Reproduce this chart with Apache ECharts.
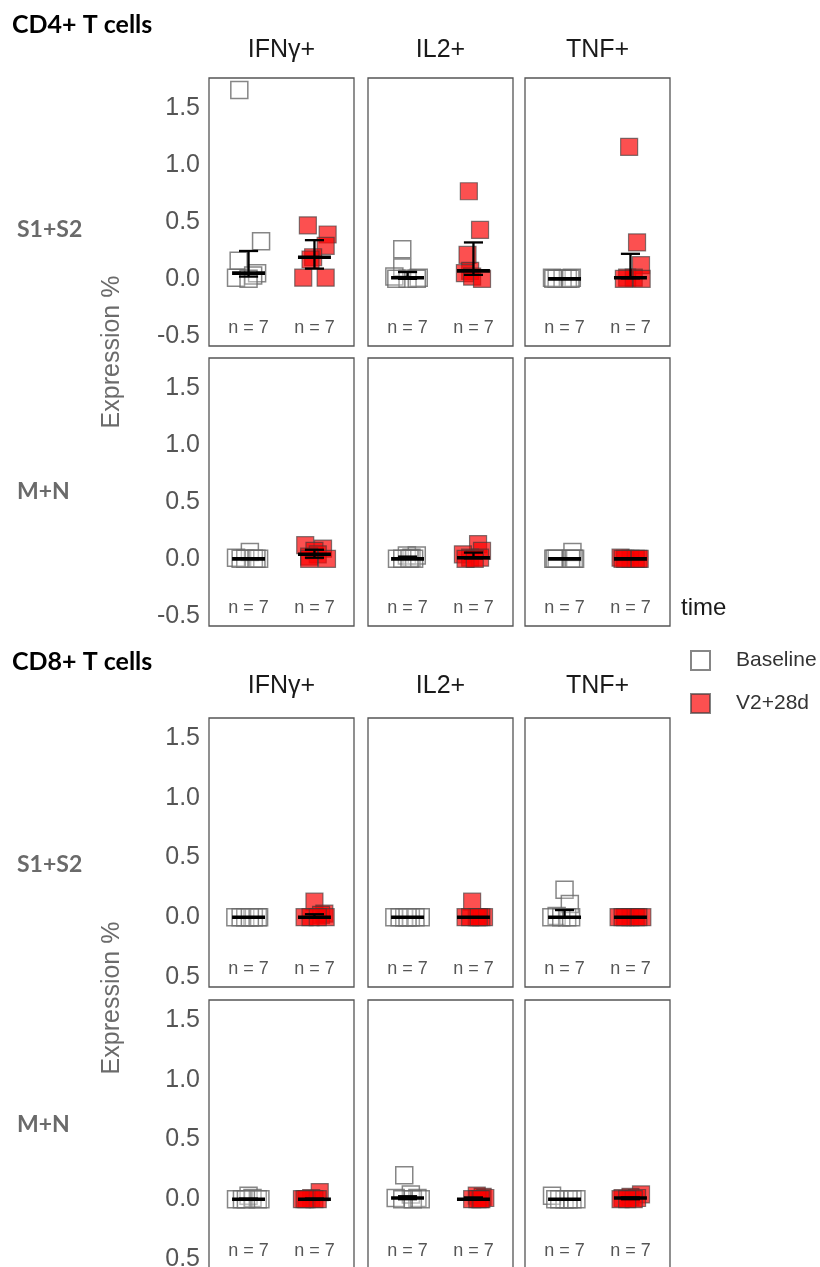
<!DOCTYPE html>
<html>
<head>
<meta charset="utf-8">
<title>T cell cytokine expression</title>
<script src="https://cdn.jsdelivr.net/npm/echarts@6/dist/echarts.min.js"></script>
<style>
  html, body { margin: 0; padding: 0; background: #ffffff; }
  #chart { width: 820px; height: 1267px; }
</style>
</head>
<body>
<div id="chart"></div>
<script>
// ---- categories and tick labels ----
const cellTypes = ['CD4+ T cells', 'CD8+ T cells'];
const antigens = ['S1+S2', 'M+N'];
const cytokines = ['IFNγ+', 'IL2+', 'TNF+'];
const timePoints = ['Baseline', 'V2+28d'];
const yTicks = [-0.5, 0, 0.5, 1, 1.5];
const cd4TickLabels = ['-0.5', '0.0', '0.5', '1.0', '1.5'];
const cd8TickLabels = ['0.5', '0.0', '0.5', '1.0', '1.5'];

// ---- Expression % per donor; one row per cytokine (IFNγ+, IL2+, TNF+) ----
const cd4S1S2Baseline = [
  [1.66, 0.33, 0.16, 0.05, 0.03, 0.01, 0.00],
  [0.26, 0.10, 0.02, 0.01, 0.00, 0.00, 0.00],
  [0.01, 0.01, 0.00, 0.00, 0.00, 0.00, 0.00]
];
const cd4S1S2V2 = [
  [0.47, 0.39, 0.29, 0.19, 0.17, 0.01, 0.01],
  [0.77, 0.43, 0.21, 0.07, 0.05, 0.02, 0.00],
  [1.16, 0.32, 0.12, 0.01, 0.01, 0.00, 0.00]
];
const cd4MNBaseline = [
  [0.06, 0.01, 0.00, 0.00, 0.00, 0.00, 0.00],
  [0.03, 0.03, 0.01, 0.00, 0.00, 0.00, 0.00],
  [0.06, 0.00, 0.00, 0.00, 0.00, 0.00, 0.00]
];
const cd4MNV2 = [
  [0.12, 0.09, 0.07, 0.04, 0.02, 0.00, 0.00],
  [0.13, 0.07, 0.04, 0.01, 0.01, 0.00, 0.00],
  [0.01, 0.00, 0.00, 0.00, 0.00, 0.00, 0.00]
];
const cd8S1S2Baseline = [
  [0.00, 0.00, 0.00, 0.00, 0.00, 0.00, 0.00],
  [0.00, 0.00, 0.00, 0.00, 0.00, 0.00, 0.00],
  [0.23, 0.11, 0.01, 0.00, 0.00, 0.00, 0.00]
];
const cd8S1S2V2 = [
  [0.13, 0.03, 0.02, 0.00, 0.00, 0.00, 0.00],
  [0.13, 0.00, 0.00, 0.00, 0.00, 0.00, 0.00],
  [0.00, 0.00, 0.00, 0.00, 0.00, 0.00, 0.00]
];
const cd8MNBaseline = [
  [0.03, 0.01, 0.00, 0.00, 0.00, 0.00, 0.00],
  [0.20, 0.04, 0.01, 0.01, 0.00, 0.00, 0.00],
  [0.03, 0.00, 0.00, 0.00, 0.00, 0.00, 0.00]
];
const cd8MNV2 = [
  [0.06, 0.01, 0.00, 0.00, 0.00, 0.00, 0.00],
  [0.03, 0.02, 0.01, 0.00, 0.00, 0.00, 0.00],
  [0.04, 0.02, 0.01, 0.01, 0.00, 0.00, 0.00]
];

// ---- horizontal jitter of each donor point (x-axis units) ----
const cd4S1S2BaselineJitter = [
  [-0.14, 0.19, -0.15, 0.13, 0.07, -0.19, 0.00],
  [-0.08, -0.08, -0.20, 0.17, 0.00, -0.17, 0.14],
  [-0.19, 0.11, -0.12, 0.05, -0.03, 0.09, -0.17]
];
const cd4S1S2V2Jitter = [
  [-0.10, 0.20, 0.17, -0.02, -0.06, -0.17, 0.17],
  [-0.07, 0.10, -0.09, -0.05, -0.13, -0.02, 0.13],
  [-0.02, 0.10, 0.16, -0.05, 0.05, 0.17, -0.10]
];
const cd4MNBaselineJitter = [
  [0.02, -0.19, 0.16, -0.05, 0.08, -0.12, 0.12],
  [-0.01, 0.14, 0.06, -0.16, 0.10, -0.08, 0.03],
  [0.12, -0.17, 0.14, -0.12, 0.16, -0.15, 0.10]
];
const cd4MNV2Jitter = [
  [-0.14, 0.13, 0.00, 0.05, -0.08, -0.08, 0.19],
  [0.07, 0.13, -0.16, -0.05, 0.10, -0.12, 0.02],
  [-0.15, 0.12, 0.00, -0.08, 0.08, -0.12, 0.14]
];
const cd8S1S2BaselineJitter = [
  [-0.20, 0.14, -0.05, 0.08, 0.16, -0.12, 0.02],
  [-0.20, 0.20, -0.05, 0.05, -0.12, 0.12, 0.00],
  [0.00, 0.08, -0.12, -0.20, 0.04, -0.05, 0.10]
];
const cd8S1S2V2Jitter = [
  [0.00, 0.15, 0.10, -0.15, 0.17, -0.06, 0.05],
  [-0.02, -0.12, 0.16, 0.05, 0.12, -0.05, 0.08],
  [-0.18, 0.18, 0.00, -0.08, 0.08, 0.12, -0.12]
];
const cd8MNBaselineJitter = [
  [0.00, 0.06, -0.19, 0.14, -0.10, 0.18, -0.04],
  [-0.05, 0.05, -0.18, 0.15, -0.08, 0.08, 0.20],
  [-0.19, 0.00, 0.12, -0.08, 0.18, 0.06, -0.14]
];
const cd8MNV2Jitter = [
  [0.08, -0.05, -0.19, 0.00, -0.12, 0.05, -0.15],
  [0.05, 0.14, 0.18, -0.02, 0.10, 0.06, 0.12],
  [0.16, 0.00, -0.12, 0.10, -0.15, 0.05, -0.05]
];

// panel lookup: [cell type][antigen] -> [baseline, V2, baseline jitter, V2 jitter]
const panelData = [
  [[cd4S1S2Baseline, cd4S1S2V2, cd4S1S2BaselineJitter, cd4S1S2V2Jitter],
   [cd4MNBaseline, cd4MNV2, cd4MNBaselineJitter, cd4MNV2Jitter]],
  [[cd8S1S2Baseline, cd8S1S2V2, cd8S1S2BaselineJitter, cd8S1S2V2Jitter],
   [cd8MNBaseline, cd8MNV2, cd8MNBaselineJitter, cd8MNV2Jitter]]
];

// ---- layout ----
const FONT = '"Liberation Sans", Arial, sans-serif';
const BOLD_FONT = 'Lato, "Open Sans", sans-serif';
const colLeft = [209, 368, 525];
const colWidth = 145;
const rowTops = [[78, 358], [718, 1000]];
const rowHeights = [268, 269];
const yRanges = [[-0.59, 1.765], [-0.585, 1.67]];
const tickLabelSets = [cd4TickLabels, cd8TickLabels];

// type-7 quantile of a sorted array
function quantile(sorted, p) {
  const pos = (sorted.length - 1) * p;
  const lo = Math.floor(pos), hi = Math.ceil(pos);
  return sorted[lo] + (sorted[hi] - sorted[lo]) * (pos - lo);
}

const baselineStyle = { color: 'rgba(255,255,255,0.25)', borderColor: '#686868', borderWidth: 1.5 };
const v2Style = { color: 'rgba(250,0,0,0.86)', borderColor: 'rgba(60,60,60,0.8)', borderWidth: 1.2 };

const grids = [], xAxes = [], yAxes = [], series = [];

function renderErrorBar(params, api) {
  const x = api.value(0), lo = api.value(1), med = api.value(2), hi = api.value(3);
  const pLo = api.coord([x, lo]);
  const pHi = api.coord([x, hi]);
  const pMed = api.coord([x, med]);
  const capHalf = api.size([0.29, 0])[0] / 2;
  const medHalf = api.size([0.5, 0])[0] / 2;
  const stroke = { stroke: '#000', lineWidth: 2.3 };
  return {
    type: 'group',
    children: [
      { type: 'line', shape: { x1: pLo[0], y1: pLo[1], x2: pHi[0], y2: pHi[1] }, style: stroke },
      { type: 'line', shape: { x1: pHi[0] - capHalf, y1: pHi[1], x2: pHi[0] + capHalf, y2: pHi[1] }, style: stroke },
      { type: 'line', shape: { x1: pLo[0] - capHalf, y1: pLo[1], x2: pLo[0] + capHalf, y2: pLo[1] }, style: stroke },
      { type: 'line', shape: { x1: pMed[0] - medHalf, y1: pMed[1], x2: pMed[0] + medHalf, y2: pMed[1] },
        style: { stroke: '#000', lineWidth: 3.6 } }
    ]
  };
}

let gi = 0;
for (let g = 0; g < cellTypes.length; g++) {
  for (let r = 0; r < antigens.length; r++) {
    for (let c = 0; c < cytokines.length; c++) {
      const [baseAll, v2All, baseJitAll, v2JitAll] = panelData[g][r];
      const groups = [
        { name: timePoints[0], vals: baseAll[c], jit: baseJitAll[c], pos: 1, style: baselineStyle },
        { name: timePoints[1], vals: v2All[c], jit: v2JitAll[c], pos: 2, style: v2Style }
      ];
      const labels = tickLabelSets[g];
      grids.push({
        left: colLeft[c], top: rowTops[g][r], width: colWidth, height: rowHeights[g],
        outerBoundsMode: 'none', containLabel: false,
        show: true, borderColor: '#555', borderWidth: 1.3, backgroundColor: 'transparent'
      });
      xAxes.push({ gridIndex: gi, type: 'value', min: 0.4, max: 2.6, show: false });
      yAxes.push({
        gridIndex: gi, type: 'value', min: yRanges[g][0], max: yRanges[g][1],
        axisLine: { show: false }, axisTick: { show: false }, splitLine: { show: false },
        axisLabel: {
          show: c === 0, customValues: yTicks,
          formatter: v => labels[yTicks.findIndex(t => Math.abs(t - v) < 1e-9)],
          fontSize: 25, color: '#555555', margin: 9, fontFamily: FONT
        }
      });
      groups.forEach(grp => {
        series.push({
          type: 'scatter', name: grp.name, xAxisIndex: gi, yAxisIndex: gi,
          symbol: 'rect', symbolSize: 17, itemStyle: grp.style, z: 2,
          emphasis: { disabled: true },
          data: grp.vals.map((v, i) => [grp.pos + grp.jit[i], v])
        });
      });
      // median with interquartile error bar
      series.push({
        type: 'custom', name: 'summary', xAxisIndex: gi, yAxisIndex: gi, z: 3,
        renderItem: renderErrorBar, encode: { x: 0, y: [1, 2, 3] }, silent: true,
        data: groups.map(grp => {
          const s = grp.vals.slice().sort((a, b) => a - b);
          return [grp.pos, quantile(s, 0.25), quantile(s, 0.5), quantile(s, 0.75)];
        })
      });
      // sample size under each group
      series.push({
        type: 'scatter', name: 'count', xAxisIndex: gi, yAxisIndex: gi,
        symbolSize: 1, itemStyle: { color: 'rgba(0,0,0,0)' }, silent: true, z: 4,
        label: {
          show: true, position: 'top', distance: -2,
          formatter: p => 'n = ' + groups[p.dataIndex].vals.length,
          fontSize: 18, color: '#2a2a2a', fontFamily: FONT
        },
        data: groups.map(grp => [grp.pos, -0.5])
      });
      gi++;
    }
  }
}

// ---- titles, strip labels, row labels ----
const graphics = [];
const stripY = [50, 686];
const titleY = [25, 662];
const rowLabelY = [[230, 492], [865, 1125]];
const yTitleY = [352, 998];
for (let g = 0; g < cellTypes.length; g++) {
  graphics.push({
    type: 'text', x: 12, y: titleY[g],
    style: { text: cellTypes[g], font: 'bold 25px ' + BOLD_FONT, fill: '#000', align: 'left', verticalAlign: 'middle' }
  });
  cytokines.forEach((name, c) => {
    graphics.push({
      type: 'text', x: colLeft[c] + colWidth / 2, y: stripY[g],
      style: { text: name, font: '25px ' + FONT, fill: '#1a1a1a', align: 'center', verticalAlign: 'middle' }
    });
  });
  antigens.forEach((name, r) => {
    graphics.push({
      type: 'text', x: 17, y: rowLabelY[g][r],
      style: { text: name, font: 'bold 23px ' + BOLD_FONT, fill: '#6a6a6a', align: 'left', verticalAlign: 'middle' }
    });
  });
  graphics.push({
    type: 'text', x: 112, y: yTitleY[g], rotation: Math.PI / 2,
    style: { text: 'Expression %', font: '25px ' + FONT, fill: '#6b6b6b', align: 'center', verticalAlign: 'middle' }
  });
}
graphics.push({
  type: 'text', x: 681, y: 608,
  style: { text: 'time', font: '24px ' + FONT, fill: '#1a1a1a', align: 'left', verticalAlign: 'middle' }
});

const chart = echarts.init(document.getElementById('chart'), null, { renderer: 'canvas' });
chart.setOption({
  animation: false,
  backgroundColor: '#ffffff',
  textStyle: { fontFamily: FONT },
  grid: grids,
  xAxis: xAxes,
  yAxis: yAxes,
  legend: {
    data: timePoints, orient: 'vertical', left: 685, top: 645,
    itemWidth: 19, itemHeight: 19, itemGap: 22,
    selectedMode: false,
    textStyle: { fontSize: 21, color: '#333', fontFamily: FONT, padding: [0, 0, 0, 21] }
  },
  graphic: graphics,
  series: series
});
</script>
</body>
</html>
